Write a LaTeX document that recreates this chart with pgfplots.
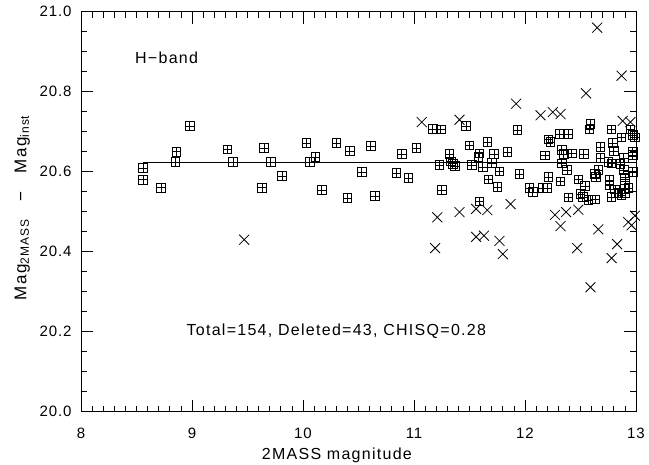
\documentclass[border=0pt]{standalone}
\usepackage{fontspec}
\setmainfont{Liberation Sans}
\usepackage{pgfplots}
\pgfplotsset{compat=1.18}
\pgfdeclareplotmark{boxplus}{%
 \pgfpathrectangle{\pgfpoint{-\pgfplotmarksize}{-\pgfplotmarksize}}{\pgfpoint{2\pgfplotmarksize}{2\pgfplotmarksize}}%
 \pgfpathmoveto{\pgfpoint{-\pgfplotmarksize}{0pt}}\pgfpathlineto{\pgfpoint{\pgfplotmarksize}{0pt}}%
 \pgfpathmoveto{\pgfpoint{0pt}{-\pgfplotmarksize}}\pgfpathlineto{\pgfpoint{0pt}{\pgfplotmarksize}}%
 \pgfusepathqstroke}
\newcommand{\lblfont}{\fontsize{16}{19}\selectfont\addfontfeatures{LetterSpace=8}}
\newcommand{\ylblfont}{\fontsize{17}{20}\selectfont\addfontfeatures{LetterSpace=8}}
\begin{document}
\begin{tikzpicture}
\begin{axis}[
  scale only axis, width=555pt, height=400pt,
  xmin=8, xmax=13, ymin=20, ymax=21,
  xtick={8,9,10,11,12,13}, ytick={20,20.2,20.4,20.6,20.8,21},
  minor x tick num=9, minor y tick num=3,
  tick align=inside, xtick pos=both, ytick pos=both,
  major tick length=12pt, minor tick length=6pt,
  axis line style={line width=0.8pt},
  tick style={line width=0.7pt, black},
  /pgf/number format/assume math mode=true,
  tick label style={font=\fontsize{15}{18}\selectfont\addfontfeatures{LetterSpace=6}},
  yticklabel style={/pgf/number format/fixed, /pgf/number format/fixed zerofill, /pgf/number format/precision=1, xshift=-6pt},
  xticklabel style={yshift=-13pt},
  xlabel={2MASS magnitude},
  ylabel={Mag\textsubscript{\fontsize{12}{14}\selectfont 2MASS}\ \ \ −\ \ \ Mag\textsubscript{\fontsize{12}{14}\selectfont inst}},
  every axis x label/.style={at={(axis description cs:0.461,-0.11)}, anchor=center, font=\lblfont},
  every axis y label/.style={at={(axis description cs:-0.106,0.51)}, anchor=center, rotate=90, font=\ylblfont},
  clip=false,
]
% mean line
\addplot[black, line width=0.8pt, mark=none] coordinates {(8.56,20.624) (13,20.624)};
% kept points
\addplot[only marks, mark=boxplus, mark size=4.3pt, line width=0.8pt, black] table {
x y
8.56 20.609
8.56 20.58
8.72 20.56
8.85 20.624
8.86 20.65
8.98 20.714
9.32 20.656
9.37 20.624
9.65 20.659
9.71 20.624
9.63 20.56
9.81 20.589
10.03 20.672
10.06 20.624
10.11 20.637
10.17 20.554
10.30 20.672
10.40 20.534
10.42 20.652
10.53 20.599
10.61 20.664
10.65 20.539
10.84 20.597
10.89 20.644
10.95 20.584
11.02 20.659
11.17 20.707
11.24 20.706
11.32 20.644
11.47 20.714
11.23 20.617
11.33 20.626
11.35 20.62
11.37 20.614
11.25 20.554
11.50 20.666
11.52 20.617
11.59 20.646
11.58 20.637
11.66 20.674
11.62 20.612
11.70 20.622
11.72 20.644
11.77 20.601
11.67 20.581
11.75 20.562
11.84 20.649
11.93 20.704
11.95 20.594
11.59 20.526
12.59 20.719
12.58 20.706
12.21 20.681
12.23 20.674
12.31 20.694
12.39 20.694
12.78 20.706
12.87 20.686
12.95 20.706
12.97 20.692
12.99 20.686
12.79 20.672
12.68 20.662
12.80 20.652
12.33 20.654
12.35 20.644
12.42 20.646
12.53 20.644
12.18 20.641
12.97 20.649
12.97 20.642
12.68 20.634
12.89 20.634
12.75 20.624
12.78 20.621
12.86 20.619
12.33 20.621
12.38 20.604
12.89 20.604
12.97 20.599
12.66 20.604
12.63 20.594
12.64 20.587
12.21 20.587
12.90 20.586
12.48 20.581
12.32 20.576
12.76 20.579
12.54 20.564
12.76 20.566
12.90 20.569
12.93 20.559
12.04 20.559
12.07 20.549
12.16 20.559
12.20 20.559
12.81 20.556
12.84 20.547
12.87 20.542
12.90 20.546
12.50 20.544
12.39 20.536
12.52 20.537
12.57 20.529
12.63 20.531
12.78 20.537
};
% deleted points
\addplot[only marks, mark=x, mark size=7pt, line width=0.8pt, black] table {
x y
9.47 20.43
11.07 20.724
11.41 20.73
11.21 20.486
11.41 20.499
11.19 20.409
11.92 20.77
11.87 20.519
11.56 20.507
11.66 20.504
11.56 20.437
11.63 20.44
11.77 20.427
11.80 20.394
12.14 20.741
12.25 20.749
12.32 20.744
12.88 20.727
12.95 20.724
12.27 20.492
12.37 20.499
12.48 20.505
12.32 20.464
12.66 20.456
12.47 20.409
12.83 20.419
12.78 20.384
12.59 20.311
12.93 20.474
12.96 20.466
12.99 20.49
12.65 20.96
12.87 20.84
12.55 20.796
};
\node[anchor=west, font=\lblfont, inner sep=0pt] at (axis cs:8.486,20.884) {H−band};
\node[anchor=center, font=\lblfont, inner sep=0pt] at (axis cs:10.30,20.20) {Total=154, Deleted=43, CHISQ=0.28};
\end{axis}
\pgfresetboundingbox
\path[use as bounding box] ([xshift=-81pt,yshift=-52.3pt]current axis.south west) rectangle ([xshift=13pt,yshift=11.7pt]current axis.north east);
\end{tikzpicture}
\end{document}
